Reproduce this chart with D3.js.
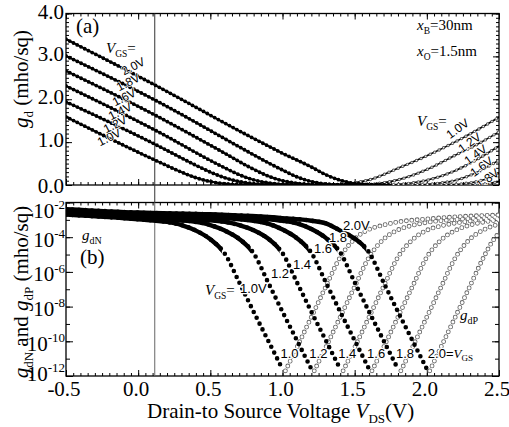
<!DOCTYPE html>
<html>
<head>
<meta charset="utf-8">
<script src="https://cdn.jsdelivr.net/npm/d3@7"></script>
<style>
  body { margin: 0; background: #fff; }
</style>
</head>
<body>
<script>
const vgs = [1.0, 1.2, 1.4, 1.6, 1.8, 2.0];
const vgsLabels = ["1.0V", "1.2V", "1.4V", "1.6V", "1.8V", "2.0V"];

// panel (a): g_d in mho/sq, falling (electron) part, one list per VGS
const gdN_a = [
  [[-0.5,1.59],[0.117,0.58],[0.3,0.30],[0.4,0.17],[0.5,0.08],[0.6,0.03],[0.7,0.01],[0.9,0.0],[1.6,0.0]],
  [[-0.5,1.94],[0.117,0.95],[0.4,0.46],[0.5,0.30],[0.6,0.17],[0.7,0.08],[0.8,0.03],[0.9,0.01],[1.1,0.0],[1.6,0.0]],
  [[-0.5,2.31],[0.117,1.28],[0.6,0.40],[0.7,0.24],[0.8,0.12],[0.9,0.05],[1.0,0.015],[1.2,0.0],[1.6,0.0]],
  [[-0.5,2.66],[0.117,1.63],[0.6,0.74],[0.775,0.41],[0.9,0.21],[1.0,0.10],[1.1,0.04],[1.2,0.012],[1.35,0.0],[1.6,0.0]],
  [[-0.5,3.01],[0.117,1.98],[0.775,0.75],[0.9,0.52],[1.0,0.35],[1.1,0.19],[1.2,0.08],[1.3,0.025],[1.4,0.005],[1.55,0.0],[1.7,0.0]],
  [[-0.5,3.40],[0.117,2.33],[0.775,1.13],[1.0,0.74],[1.2,0.42],[1.3,0.24],[1.4,0.11],[1.5,0.035],[1.6,0.01],[1.75,0.0]]
];
// panel (a): rising (hole) part
const gdP_a = [
  [[1.3,0.0],[1.45,0.03],[1.6,0.12],[1.8,0.39],[2.0,0.68],[2.25,1.10],[2.5,1.58]],
  [[1.5,0.0],[1.65,0.03],[1.8,0.12],[2.0,0.36],[2.2,0.70],[2.35,0.95],[2.5,1.24]],
  [[1.7,0.0],[1.85,0.03],[2.0,0.11],[2.2,0.34],[2.35,0.60],[2.5,0.91]],
  [[1.9,0.0],[2.05,0.03],[2.2,0.11],[2.35,0.30],[2.5,0.58]],
  [[2.1,0.0],[2.25,0.03],[2.4,0.13],[2.5,0.27]],
  [[2.3,0.0],[2.42,0.03],[2.5,0.08]]
];

// panel (b): log10 of g_dN (filled dots)
const logN_b = [
  [[-0.5,-2.70],[0.0,-2.97],[0.2,-3.12],[0.3,-3.30],[0.4,-3.62],[0.5,-4.12],[0.6,-4.95],[0.7,-6.60],[0.8,-8.30],[0.9,-9.95],[1.0,-11.6]],
  [[-0.5,-2.63],[0.0,-2.88],[0.2,-2.98],[0.4,-3.12],[0.5,-3.30],[0.6,-3.62],[0.7,-4.10],[0.8,-4.93],[0.9,-6.60],[1.0,-8.30],[1.1,-9.95],[1.2,-11.6]],
  [[-0.5,-2.56],[0.0,-2.79],[0.4,-2.96],[0.6,-3.12],[0.7,-3.30],[0.8,-3.60],[0.9,-4.08],[1.0,-4.92],[1.1,-6.60],[1.2,-8.30],[1.3,-9.95],[1.4,-11.6]],
  [[-0.5,-2.50],[0.0,-2.71],[0.5,-2.86],[0.8,-3.06],[0.9,-3.22],[1.0,-3.56],[1.1,-4.06],[1.2,-4.90],[1.3,-6.60],[1.4,-8.30],[1.5,-9.95],[1.6,-11.6]],
  [[-0.5,-2.44],[0.0,-2.64],[0.5,-2.76],[0.9,-2.96],[1.0,-3.05],[1.1,-3.20],[1.2,-3.53],[1.3,-4.04],[1.4,-4.88],[1.5,-6.60],[1.6,-8.30],[1.7,-9.95],[1.8,-11.6]],
  [[-0.5,-2.38],[0.0,-2.58],[0.5,-2.68],[1.0,-2.90],[1.2,-3.05],[1.3,-3.20],[1.4,-3.62],[1.5,-4.08],[1.6,-4.88],[1.7,-6.60],[1.8,-8.30],[1.9,-9.95],[2.0,-11.6]]
];
// panel (b): log10 of g_dP (open circles)
const logP_b = [
  [[1.02,-11.7],[1.1,-10.35],[1.2,-8.6],[1.3,-6.85],[1.4,-5.15],[1.5,-4.1],[1.6,-3.55],[1.7,-3.3],[1.8,-3.12],[2.0,-2.95],[2.25,-2.8],[2.5,-2.72]],
  [[1.22,-11.7],[1.3,-10.35],[1.4,-8.6],[1.5,-6.85],[1.6,-5.15],[1.7,-4.12],[1.8,-3.58],[1.9,-3.32],[2.0,-3.15],[2.25,-2.95],[2.5,-2.82]],
  [[1.42,-11.7],[1.5,-10.35],[1.6,-8.6],[1.7,-6.85],[1.8,-5.15],[1.9,-4.15],[2.0,-3.6],[2.1,-3.35],[2.25,-3.12],[2.5,-2.92]],
  [[1.62,-11.7],[1.7,-10.35],[1.8,-8.6],[1.9,-6.85],[2.0,-5.15],[2.1,-4.15],[2.2,-3.6],[2.3,-3.3],[2.4,-3.12],[2.5,-3.0]],
  [[1.82,-11.7],[1.9,-10.35],[2.0,-8.6],[2.1,-6.85],[2.2,-5.15],[2.3,-4.1],[2.4,-3.55],[2.5,-3.25]],
  [[2.02,-11.7],[2.1,-10.3],[2.2,-8.55],[2.3,-6.8],[2.4,-5.05],[2.45,-4.3],[2.5,-3.75]]
];

const xTicks = [-0.5, 0.0, 0.5, 1.0, 1.5, 2.0, 2.5];
const xTickLabels = ["-0.5", "0.0", "0.5", "1.0", "1.5", "2.0", "2.5"];
const aTicks = [0, 1, 2, 3, 4];
const aTickLabels = ["0.0", "1.0", "2.0", "3.0", "4.0"];
const bExps = [-2, -4, -6, -8, -10, -12];
const markerV = 0.115;

const SERIF = "'Liberation Serif', 'Times New Roman', Times, Tinos, 'DejaVu Serif', serif";
const SANS = "'Liberation Sans', Arial, Helvetica, Arimo, sans-serif";

const W = 509, H = 427;
const L = 66, R = 499;
const aTop = 13.5, aBot = 185, bTop = 202.5, bBot = 376;

const svg = d3.select("body").append("svg").attr("width", W).attr("height", H)
  .attr("font-family", SERIF);

const x = d3.scaleLinear().domain([-0.5, 2.5]).range([L, R]);
const ya = d3.scaleLinear().domain([0, 4]).range([aBot, aTop]);
const yb = d3.scaleLog().domain([1e-12, 1e-2]).range([bBot, bTop]);

// rich text with italic / sub / sup pieces
function rich(t, parts, size) {
  let shift = 0;
  parts.forEach(p => {
    const target = p.sub ? size * 0.25 : p.sup ? -size * 0.42 : 0;
    const ts = t.append("tspan").attr("dy", target - shift).text(p.t);
    if (p.it) ts.attr("font-style", "italic");
    if (p.sub || p.sup) ts.attr("font-size", p.fs || size * 0.62);
    if (p.sans) ts.attr("font-family", SANS);
    shift = target;
  });
  return t;
}

const defs = svg.append("defs");
defs.append("clipPath").attr("id", "clipA").append("rect")
  .attr("x", L).attr("y", aTop).attr("width", R - L).attr("height", aBot - aTop);
defs.append("clipPath").attr("id", "clipB").append("rect")
  .attr("x", L).attr("y", bTop).attr("width", R - L).attr("height", bBot - bTop);
// where the filled markers of each VGS sit so close they merge into a band
vgs.forEach((g, i) => {
  defs.append("clipPath").attr("id", "band" + i).append("rect")
    .attr("x", L).attr("y", bTop).attr("width", x(g - 0.42) - L).attr("height", bBot - bTop);
});

// ticks on all four sides, pointing inward
function frameTicks(yScale, top, bot, yMajor, yMinor, yMajLen, yMinLen) {
  const g = svg.append("g");
  const xMinor = d3.range(-0.5, 2.5001, 0.05);
  const add = (axis, tr) => {
    const a = g.append("g").attr("transform", tr).call(axis);
    a.select(".domain").remove();
    a.selectAll("line").attr("stroke", "#000");
  };
  add(d3.axisBottom(x).tickValues(xMinor).tickSize(-3).tickFormat(""), `translate(0,${bot})`);
  add(d3.axisBottom(x).tickValues(xTicks).tickSize(-6).tickFormat(""), `translate(0,${bot})`);
  add(d3.axisTop(x).tickValues(xMinor).tickSize(-3).tickFormat(""), `translate(0,${top})`);
  add(d3.axisTop(x).tickValues(xTicks).tickSize(-6).tickFormat(""), `translate(0,${top})`);
  add(d3.axisLeft(yScale).tickValues(yMinor).tickSize(-yMinLen).tickFormat(""), `translate(${L},0)`);
  add(d3.axisLeft(yScale).tickValues(yMajor).tickSize(-yMajLen).tickFormat(""), `translate(${L},0)`);
  add(d3.axisRight(yScale).tickValues(yMinor).tickSize(-yMinLen).tickFormat(""), `translate(${R},0)`);
  add(d3.axisRight(yScale).tickValues(yMajor).tickSize(-yMajLen).tickFormat(""), `translate(${R},0)`);
  g.append("rect").attr("x", L).attr("y", top).attr("width", R - L).attr("height", bot - top)
    .attr("fill", "none").attr("stroke", "#000").attr("stroke-width", 1.3);
}

frameTicks(ya, aTop, aBot, aTicks, d3.range(0, 4.001, 0.1), 6, 3);
frameTicks(yb, bTop, bBot, bExps.map(e => Math.pow(10, e)),
  d3.range(-12, -1).map(e => Math.pow(10, e)), 7, 4);

// vertical reference line
svg.append("line").attr("x1", x(markerV)).attr("x2", x(markerV))
  .attr("y1", aTop).attr("y2", bTop).attr("stroke", "#333").attr("stroke-width", 1);
svg.append("line").attr("x1", x(markerV)).attr("x2", x(markerV))
  .attr("y1", bTop).attr("y2", bBot).attr("stroke", "#666").attr("stroke-width", 1);

// ---- panel (a) curves
const lineA = d3.line().x(d => x(d[0])).y(d => ya(d[1])).curve(d3.curveMonotoneX);
const gA = svg.append("g").attr("clip-path", "url(#clipA)");

gA.selectAll("path.pl").data(gdP_a).join("path")
  .attr("d", lineA).attr("fill", "none").attr("stroke", "#000").attr("stroke-width", 1.6);
gA.selectAll("path.po").data(gdP_a).join("path")
  .attr("d", lineA).attr("fill", "none").attr("stroke", "#555").attr("stroke-width", 3.4)
  .attr("stroke-linecap", "round").attr("stroke-dasharray", "0 5");
gA.selectAll("path.pw").data(gdP_a).join("path")
  .attr("d", lineA).attr("fill", "none").attr("stroke", "#fff").attr("stroke-width", 1.5)
  .attr("stroke-linecap", "round").attr("stroke-dasharray", "0 5");

gA.selectAll("path.nl").data(gdN_a).join("path")
  .attr("d", lineA).attr("fill", "none").attr("stroke", "#000").attr("stroke-width", 2);
gA.selectAll("path.nd").data(gdN_a).join("path")
  .attr("d", lineA).attr("fill", "none").attr("stroke", "#000").attr("stroke-width", 3.8)
  .attr("stroke-linecap", "round").attr("stroke-dasharray", "0 4.2");

// ---- panel (b) curves
const lineB = d3.line().x(d => x(d[0])).y(d => yb(Math.pow(10, d[1]))).curve(d3.curveMonotoneX);
const gB = svg.append("g").attr("clip-path", "url(#clipB)");

gB.selectAll("path.po").data(logP_b).join("path")
  .attr("d", lineB).attr("fill", "none").attr("stroke", "#666").attr("stroke-width", 4.8)
  .attr("stroke-linecap", "round").attr("stroke-dasharray", "0 5.4");
gB.selectAll("path.pw").data(logP_b).join("path")
  .attr("d", lineB).attr("fill", "none").attr("stroke", "#fff").attr("stroke-width", 3.1)
  .attr("stroke-linecap", "round").attr("stroke-dasharray", "0 5.4");
gB.selectAll("path.nb").data(logN_b).join("path")
  .attr("clip-path", (d, i) => `url(#band${i})`)
  .attr("d", lineB).attr("fill", "none").attr("stroke", "#000").attr("stroke-width", 4.4);
gB.selectAll("path.nd").data(logN_b).join("path")
  .attr("d", lineB).attr("fill", "none").attr("stroke", "#000").attr("stroke-width", 4.6)
  .attr("stroke-linecap", "round").attr("stroke-dasharray", "0 6.5");

// ---- tick labels
svg.append("g").selectAll("text").data(xTicks).join("text")
  .attr("x", d => x(d) - 2).attr("y", 396).attr("text-anchor", "middle")
  .attr("font-size", 21).text((d, i) => xTickLabels[i]);

svg.append("g").selectAll("text").data(aTicks).join("text")
  .attr("x", 64).attr("y", d => ya(d) + (d === 0 ? 8 : 5)).attr("text-anchor", "end")
  .attr("font-size", 21).text((d, i) => aTickLabels[i]);

bExps.forEach(e => {
  const dy = e === -2 ? 15 : e === -12 ? 5 : 9.5;
  const t = svg.append("text").attr("x", 65).attr("y", yb(Math.pow(10, e)) + dy)
    .attr("text-anchor", "end").attr("font-size", 21);
  rich(t, [{ t: "10" }, { t: String(e), sup: true, fs: 13 }], 21);
});

// ---- axis titles
rich(svg.append("text").attr("transform", "translate(28,79) rotate(-90)")
  .attr("text-anchor", "middle").attr("font-size", 21),
  [{ t: "g", it: true }, { t: "d", sub: true, fs: 13 }, { t: " (mho/sq)" }], 21);

rich(svg.append("text").attr("transform", "translate(28,292) rotate(-90)")
  .attr("text-anchor", "middle").attr("font-size", 21),
  [{ t: "g", it: true }, { t: "dN", sub: true, fs: 13 }, { t: " and " },
   { t: "g", it: true }, { t: "dP", sub: true, fs: 13 }, { t: " (mho/sq)" }], 21);

rich(svg.append("text").attr("x", 147).attr("y", 418).attr("font-size", 21),
  [{ t: "Drain-to Source Voltage " }, { t: "V", it: true }, { t: "DS", sub: true, fs: 13 }, { t: "(V)" }], 21);

// ---- panel (a) annotations
const halo = (s, w) => s.attr("stroke", "#fff").attr("stroke-width", w || 2.5)
  .attr("paint-order", "stroke").attr("stroke-linejoin", "round");

svg.append("text").attr("x", 76).attr("y", 33).attr("font-size", 21).text("(a)");
rich(svg.append("text").attr("x", 106).attr("y", 53).attr("font-size", 15),
  [{ t: "V", it: true }, { t: "GS", sub: true, fs: 9.5 }, { t: "=" }], 15);
rich(svg.append("text").attr("x", 417).attr("y", 30).attr("font-size", 15),
  [{ t: "x", it: true }, { t: "B", sub: true, fs: 9.5 }, { t: "=30nm" }], 15);
rich(svg.append("text").attr("x", 417).attr("y", 56).attr("font-size", 15),
  [{ t: "x", it: true }, { t: "O", sub: true, fs: 9.5 }, { t: "=1.5nm" }], 15);
rich(svg.append("text").attr("x", 417).attr("y", 126).attr("font-size", 15),
  [{ t: "V", it: true }, { t: "GS", sub: true, fs: 9.5 }, { t: "=" }], 15);

const aLeftPos = [[111,137],[117,124],[122,111],[126,97],[130,82],[135,66]];
halo(svg.append("g").selectAll("text").data(vgsLabels).join("text")
  .attr("font-family", SANS).attr("font-size", 12).attr("text-anchor", "middle")
  .attr("transform", (d, i) => `translate(${aLeftPos[i][0]},${aLeftPos[i][1] + 4}) rotate(-27)`)
  .text(d => d), 1.5);

const aRightPos = [[460,128],[472,142],[478,154],[484,166],[490,178]];
halo(svg.append("g").attr("clip-path", "url(#clipA)").selectAll("text")
  .data(vgsLabels.slice(0, 5)).join("text")
  .attr("font-family", SANS).attr("font-size", 12).attr("text-anchor", "middle")
  .attr("transform", (d, i) => `translate(${aRightPos[i][0]},${aRightPos[i][1] + 4}) rotate(-36)`)
  .text(d => d), 1.5);

// ---- panel (b) annotations
rich(svg.append("text").attr("x", 82).attr("y", 240).attr("font-size", 15),
  [{ t: "g", it: true }, { t: "dN", sub: true, fs: 10 }], 15);
svg.append("text").attr("x", 80).attr("y", 264).attr("font-size", 21).text("(b)");
rich(svg.append("text").attr("x", 460).attr("y", 320).attr("font-size", 15),
  [{ t: "g", it: true }, { t: "dP", sub: true, fs: 10 }], 15);

rich(halo(svg.append("text").attr("x", 205).attr("y", 295).attr("font-size", 15)),
  [{ t: "V", it: true }, { t: "GS", sub: true, fs: 9.5 }, { t: "=" }], 15);
halo(svg.append("text").attr("font-family", SANS).attr("x", 240).attr("y", 293)
  .attr("font-size", 13).text("1.0V"));

const bMidPos = [[280,278],[302,269],[323,253],[338,242]];
halo(svg.append("g").selectAll("text").data(["1.2", "1.4", "1.6", "1.8"]).join("text")
  .attr("font-family", SANS).attr("font-size", 13).attr("text-anchor", "middle")
  .attr("x", (d, i) => bMidPos[i][0]).attr("y", (d, i) => bMidPos[i][1]).text(d => d));
halo(svg.append("text").attr("font-family", SANS).attr("x", 343).attr("y", 230)
  .attr("font-size", 13).text("2.0V"));

halo(svg.append("g").selectAll("text").data(vgs.slice(0, 5)).join("text")
  .attr("font-family", SANS).attr("font-size", 13).attr("text-anchor", "middle")
  .attr("x", d => x(d) + 7).attr("y", 358).text(d => d.toFixed(1)));
rich(halo(svg.append("text").attr("x", x(2.0) + 1).attr("y", 358).attr("font-size", 13)),
  [{ t: "2.0=", sans: true }, { t: "V", it: true, }, { t: "GS", sub: true, fs: 9 }], 13);
</script>
</body>
</html>
